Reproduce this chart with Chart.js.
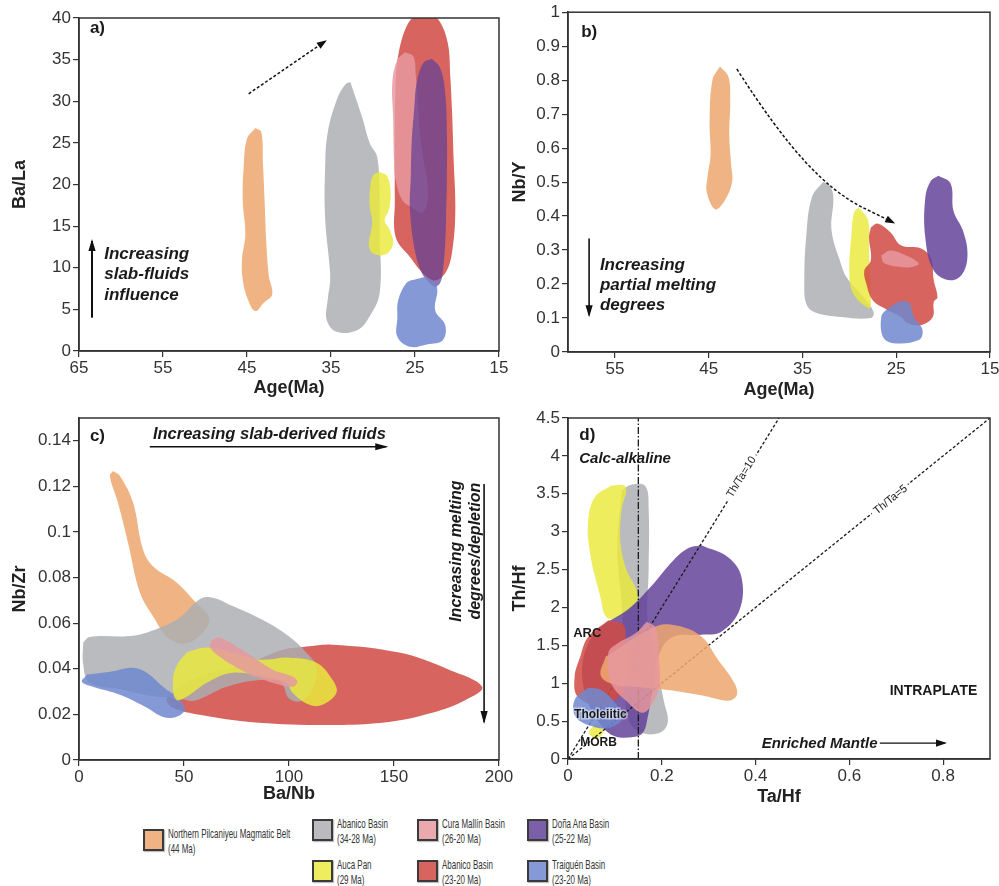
<!DOCTYPE html>
<html>
<head>
<meta charset="utf-8">
<script src="https://cdn.jsdelivr.net/npm/chart.js@4.4.1/dist/chart.umd.min.js"></script>
<style>
  html, body { margin: 0; padding: 0; background: #fff; width: 999px; height: 886px; overflow: hidden; }
  canvas { position: absolute; }
  .key { position: absolute; font: 13.5px "Liberation Sans", Arial, sans-serif; color: #333; line-height: 15px; white-space: nowrap; transform: scaleX(0.59); transform-origin: 0 0; }
  .box { position: absolute; width: 17px; height: 18px; border: 2px solid #3a3a3a; box-shadow: 1px 1px 1px rgba(0,0,0,0.25); }
</style>
</head>
<body>
<canvas id="pa" width="520" height="405" style="left:0;top:0"></canvas>
<canvas id="pb" width="520" height="405" style="left:500px;top:0"></canvas>
<canvas id="pc" width="520" height="405" style="left:0;top:405px"></canvas>
<canvas id="pd" width="520" height="405" style="left:500px;top:405px"></canvas>
<div id="legend"></div>
<script>
// ---- tick labels ----
const ageTicksA = [65, 55, 45, 35, 25, 15];
const ageTicksB = [55, 45, 35, 25, 15];
const baLaTicks = [0, 5, 10, 15, 20, 25, 30, 35, 40];
const nbYTicks = [0, 0.1, 0.2, 0.3, 0.4, 0.5, 0.6, 0.7, 0.8, 0.9, 1];
const baNbTicks = [0, 50, 100, 150, 200];
const nbZrTicks = [0, 0.02, 0.04, 0.06, 0.08, 0.1, 0.12, 0.14];
const taHfTicks = [0, 0.2, 0.4, 0.6, 0.8];
const thHfTicks = [0, 0.5, 1, 1.5, 2, 2.5, 3, 3.5, 4, 4.5];

// ---- legend ----
const legendKeys = ['orange', 'gray', 'yellow', 'pink', 'red', 'purple', 'blue'];
const legendNames = ['Northern Pilcaniyeu Magmatic Belt', 'Abanico Basin', 'Auca Pan', 'Cura Mallín Basin', 'Abanico Basin', 'Doña Ana Basin', 'Traiguén Basin'];
const legendAges = ['(44 Ma)', '(34-28 Ma)', '(29 Ma)', '(26-20 Ma)', '(23-20 Ma)', '(25-22 Ma)', '(23-20 Ma)'];

// ---- a) Age vs Ba/La ----
const aOrange = [[44.0,26.8],[43.3,26.3],[43.1,22.5],[42.9,18],[42.7,13],[42.4,9],[42.0,6.8],[43.0,5.8],[44.0,4.8],[44.9,6.2],[45.5,8.5],[45.6,11],[45.2,14],[45.5,18],[45.4,22],[45.0,25.5]];
const aGray = [[32.7,32.3],[31.3,28.1],[30.4,25],[29.5,23.3],[29.2,18],[29.2,14],[29.2,7],[30.5,4],[31.9,2.5],[34.3,2.3],[35.5,3.7],[35.4,6.1],[35.1,8.5],[35.2,10.5],[35.7,16],[35.7,22],[35.4,26.2],[34.3,30.2],[33.3,32]];
const aYellow = [[29.2,21.5],[28.3,21],[27.9,19],[28.1,17],[28.6,15.7],[28.0,14.5],[27.6,13],[28.2,11.8],[29.2,11.5],[30.2,11.9],[30.5,13],[30.2,14.5],[30.1,15.7],[30.4,17.5],[30.3,20],[29.9,21.2]];
const aRed = [[23.5,40.5],[22.2,39.8],[21.1,37],[20.8,33],[20.6,29],[20.4,23],[20.2,17],[20.5,12.5],[21.2,9.7],[22.5,8.5],[23.8,9.1],[25.6,11.3],[27.3,13.7],[27.4,18],[27.4,25],[27.3,32],[27.0,35.5],[26.0,39.0],[24.8,40.4]];
const aPink = [[26.2,35.9],[25.2,35.4],[24.9,33],[24.6,29],[24.4,26],[24.0,23],[23.5,20],[23.6,17.5],[24.2,16.6],[25.3,17.2],[26.5,18.1],[27.3,20.5],[27.5,23],[27.6,28],[27.7,32.2],[27.1,35]];
const aPurple = [[23.0,35.1],[22.0,34],[21.4,31],[21.2,26],[21.2,21],[21.3,16],[21.4,13],[21.7,9.5],[22.0,8.2],[22.6,7.7],[23.3,8.2],[24.2,9.4],[25.0,12],[25.6,17],[25.5,21],[25.4,25],[25.1,29],[24.8,32.2],[24.0,34.6]];
const aBlue = [[23.8,8.9],[25.0,8.6],[26.0,8.2],[27.0,6.1],[27.1,4],[27.1,1.7],[25.6,0.5],[23.5,0.8],[21.7,1.3],[21.4,3.1],[22.6,4.9],[22.4,7.7]];

// ---- b) Age vs Nb/Y ----
const bOrange = [[43.8,0.84],[42.9,0.81],[42.7,0.74],[42.8,0.64],[42.6,0.55],[42.5,0.5],[43.3,0.445],[44.3,0.42],[45.2,0.47],[45.1,0.52],[44.8,0.58],[44.9,0.68],[44.6,0.8]];
const bGray = [[32.8,0.50],[32.1,0.49],[31.7,0.455],[31.9,0.358],[30.9,0.26],[30.3,0.22],[28.4,0.158],[27.4,0.117],[27.7,0.10],[30.9,0.103],[33.7,0.117],[34.6,0.143],[34.8,0.21],[34.6,0.34],[34.0,0.455]];
const bYellow = [[29.0,0.425],[28.0,0.387],[27.9,0.29],[27.7,0.143],[27.9,0.128],[29.6,0.173],[30.0,0.24],[29.8,0.337],[29.5,0.41]];
const bRed = [[27.7,0.367],[27.0,0.378],[25.6,0.352],[24.5,0.314],[22.4,0.305],[21.3,0.276],[21.0,0.211],[20.6,0.161],[21.0,0.147],[21.1,0.103],[22.4,0.079],[23.8,0.085],[24.5,0.103],[25.9,0.123],[27.5,0.152],[28.2,0.202],[28.4,0.24],[27.7,0.27],[27.9,0.337]];
const bPink = [[26.6,0.284],[25.6,0.299],[24.0,0.285],[22.6,0.261],[23.3,0.25],[24.5,0.25],[26.3,0.262]];
const bBlue = [[24.8,0.147],[23.7,0.147],[23.1,0.103],[22.2,0.065],[22.6,0.035],[25.3,0.026],[26.4,0.044],[26.6,0.103],[26.1,0.123]];
const bPurple = [[20.5,0.519],[19.2,0.496],[18.9,0.416],[17.9,0.358],[17.4,0.29],[17.9,0.232],[19.2,0.211],[21.0,0.24],[21.9,0.337],[21.9,0.455],[21.3,0.504]];

// ---- c) Ba/Nb vs Nb/Zr ----
const cOrange = [[16.2,0.1268],[19.5,0.1246],[25.7,0.113],[30.4,0.0925],[35.2,0.085],[46.3,0.078],[55.1,0.0696],[62,0.062],[58,0.055],[50,0.051],[42,0.054],[36,0.062],[29.0,0.0735],[23.3,0.0955],[18.5,0.113],[14.7,0.1246]];
const cGray = [[2,0.0515],[5,0.054],[25.7,0.0545],[38.5,0.058],[48,0.0625],[57.5,0.0705],[63.7,0.0712],[73.2,0.0675],[89.3,0.0605],[101.7,0.053],[108.3,0.047],[113.1,0.041],[112,0.033],[106,0.026],[100,0.027],[96,0.034],[85,0.035],[70,0.032],[55,0.026],[48,0.027],[35,0.028],[20,0.031],[5,0.034],[2,0.042]];
const cYellow = [[51.2,0.0472],[60.8,0.0493],[73.2,0.047],[86,0.044],[100.2,0.0449],[113.1,0.0427],[120.7,0.0352],[122.6,0.0295],[115.9,0.0242],[109.7,0.0242],[101.7,0.0295],[98.8,0.0339],[89.3,0.0361],[73.2,0.0383],[60.8,0.0339],[51.2,0.0277],[46.3,0.0264],[44.7,0.0339],[46.3,0.041]];
const cPink = [[63.7,0.0528],[67,0.0537],[79.8,0.047],[92.2,0.0396],[101.7,0.0366],[104,0.0343],[101.7,0.0321],[92.2,0.0339],[79.8,0.0383],[67,0.0453],[62.2,0.0498]];
const cRed = [[108.3,0.0498],[120.7,0.0506],[152.5,0.0471],[176.2,0.0396],[192,0.0321],[184.3,0.0264],[168.2,0.0207],[144.4,0.0163],[113.1,0.0154],[81.2,0.0167],[57.5,0.0198],[44.7,0.0229],[41.8,0.0264],[46.3,0.0308],[57.5,0.0366],[81.2,0.0427],[97,0.0484]];
const cBlue = [[3.8,0.0374],[14.7,0.0387],[25.7,0.0405],[32.3,0.0383],[40,0.0321],[48,0.0264],[50.4,0.022],[46.3,0.0189],[40,0.0189],[32.3,0.0229],[19.5,0.0286],[6.7,0.0321],[1.4,0.0343]];

// ---- d) Ta/Hf vs Th/Hf ----
const dYellow = [[0.0925,3.61],[0.123,3.59],[0.114,3.28],[0.112,2.85],[0.125,2.49],[0.146,2.23],[0.146,2.07],[0.107,1.87],[0.082,1.87],[0.069,2.14],[0.047,2.72],[0.043,3.15],[0.058,3.46]];
const dYellowMorb = [[0.06,0.47],[0.075,0.4],[0.07,0.3],[0.055,0.28],[0.045,0.36]];
const dGray = [[0.115,3.55],[0.135,3.62],[0.165,3.6],[0.172,3.3],[0.172,2.5],[0.17,1.8],[0.19,1.2],[0.205,0.75],[0.213,0.5],[0.2,0.36],[0.16,0.34],[0.13,0.5],[0.12,1.2],[0.115,2.0],[0.105,2.8]];
const dPurple = [[0.284,2.82],[0.342,2.66],[0.37,2.40],[0.366,1.97],[0.327,1.68],[0.284,1.64],[0.22,1.6],[0.19,1.3],[0.18,0.9],[0.17,0.55],[0.16,0.35],[0.14,0.29],[0.1,0.3],[0.07,0.45],[0.04,0.8],[0.03,1.2],[0.045,1.55],[0.069,1.74],[0.127,1.97],[0.176,2.27],[0.226,2.63],[0.256,2.78]];
const dRed = [[0.086,1.83],[0.118,1.77],[0.123,1.53],[0.123,0.95],[0.101,0.78],[0.071,0.69],[0.021,0.82],[0.014,1.08],[0.026,1.35],[0.043,1.61]];
const dOrange = [[0.08,1.35],[0.187,1.75],[0.234,1.76],[0.284,1.62],[0.32,1.31],[0.355,1.0],[0.36,0.84],[0.342,0.77],[0.284,0.84],[0.213,0.91],[0.15,0.95],[0.1,0.98],[0.07,1.1]];
const dPink = [[0.168,1.81],[0.187,1.73],[0.194,1.35],[0.194,0.95],[0.176,0.69],[0.157,0.61],[0.129,0.74],[0.092,1.0],[0.086,1.4],[0.107,1.53],[0.144,1.66]];
const dBlue = [[0.043,0.94],[0.071,0.91],[0.107,0.69],[0.118,0.55],[0.092,0.42],[0.058,0.42],[0.017,0.55],[0.014,0.78]];
const thTa10 = [[0, 0], [0.45, 4.5]];
const thTa5 = [[0, 0], [0.9, 4.5]];
const calcLine = [[0.15, 0], [0.15, 4.5]];

// ---- styling ----
const fills = {
  orange: 'rgba(238,166,112,0.86)',
  gray: 'rgba(172,174,178,0.84)',
  yellow: 'rgba(234,234,62,0.84)',
  pink: 'rgba(230,152,158,0.84)',
  red: 'rgba(208,74,68,0.86)',
  purple: 'rgba(98,64,152,0.84)',
  blue: 'rgba(112,136,206,0.86)'
};
const FONT = '"Liberation Sans", Arial, sans-serif';
const ink = '#222';

function blob(pts, key, alpha) {
  let col = fills[key];
  if (alpha) col = col.replace(/[\d.]+\)$/, alpha + ')');
  return {
    data: pts.concat([pts[0]]).map(p => ({x: p[0], y: p[1]})),
    showLine: true, fill: 'shape', backgroundColor: col,
    borderColor: 'transparent', borderWidth: 0, pointRadius: 0, tension: 0.38
  };
}
function refLine(pts, dash) {
  return {
    data: pts.map(p => ({x: p[0], y: p[1]})),
    showLine: true, fill: false, borderColor: '#1a1a1a', borderWidth: 1.3,
    borderDash: dash, pointRadius: 0, tension: 0
  };
}

function notesPlugin(notes) {
  return {
    id: 'notes',
    afterDatasetsDraw(chart) {
      const {ctx} = chart;
      const xs = chart.scales.x, ys = chart.scales.y;
      const px = p => [xs.getPixelForValue(p[0]), ys.getPixelForValue(p[1])];
      ctx.save();
      (notes.arrows || []).forEach(a => {
        const pts = a.pts.map(px);
        ctx.strokeStyle = '#111';
        ctx.fillStyle = '#111';
        ctx.lineWidth = a.w || 1.6;
        ctx.setLineDash(a.dash || []);
        ctx.beginPath();
        ctx.moveTo(pts[0][0], pts[0][1]);
        if (pts.length > 2) {
          for (let i = 1; i < pts.length - 1; i++) {
            const mx = (pts[i][0] + pts[i + 1][0]) / 2, my = (pts[i][1] + pts[i + 1][1]) / 2;
            ctx.quadraticCurveTo(pts[i][0], pts[i][1], mx, my);
          }
        }
        const e = pts[pts.length - 1], s = pts[pts.length - 2];
        ctx.lineTo(e[0], e[1]);
        ctx.stroke();
        ctx.setLineDash([]);
        const ang = Math.atan2(e[1] - s[1], e[0] - s[0]);
        const L = a.head || 9, W = 3.6;
        const c = Math.cos(ang), sn = Math.sin(ang);
        ctx.beginPath();
        ctx.moveTo(e[0] + 2 * c, e[1] + 2 * sn);
        ctx.lineTo(e[0] - L * c + W * sn, e[1] - L * sn - W * c);
        ctx.lineTo(e[0] - L * c - W * sn, e[1] - L * sn + W * c);
        ctx.closePath();
        ctx.fill();
      });
      (notes.texts || []).forEach(t => {
        const [x, y] = px([t.x, t.y]);
        let rot = t.rot || 0;
        if (t.along) {
          const p0 = px(t.along[0]), p1 = px(t.along[1]);
          rot = Math.atan2(p1[1] - p0[1], p1[0] - p0[0]);
        }
        ctx.save();
        ctx.translate(x, y);
        ctx.rotate(rot);
        ctx.font = t.font;
        ctx.textAlign = t.align || 'left';
        ctx.textBaseline = 'middle';
        if (t.bg) {
          const w = ctx.measureText(t.text).width;
          ctx.fillStyle = '#fff';
          ctx.fillRect(-w / 2 - 3, -6, w + 6, 12);
        }
        if (t.halo) {
          ctx.strokeStyle = 'rgba(255,255,255,0.45)';
          ctx.lineWidth = 3;
          ctx.strokeText(t.text, 0, 0);
        }
        ctx.fillStyle = t.color || '#1a1a1a';
        ctx.fillText(t.text, 0, 0);
        ctx.restore();
      });
      ctx.restore();
    }
  };
}

const frame = {
  id: 'frame',
  afterDraw(chart) {
    const {ctx, chartArea: a} = chart;
    ctx.save();
    ctx.strokeStyle = '#333';
    ctx.lineWidth = 1.5;
    ctx.strokeRect(a.left, a.top, a.right - a.left, a.bottom - a.top);
    ctx.restore();
  }
};

function axis(o) {
  return {
    type: 'linear', min: o.min, max: o.max, reverse: !!o.reverse,
    afterBuildTicks: s => { s.ticks = o.ticks.map(v => ({value: v})); },
    afterFit: s => { if (s.isHorizontal()) s.height = o.size; else s.width = o.size; },
    grid: {display: true, drawOnChartArea: false, drawTicks: true, tickLength: 6, color: '#333', lineWidth: 1.2},
    border: {display: true, color: '#333', width: 1.5},
    ticks: {font: {size: 17, family: FONT}, color: '#333', padding: o.tickPad, maxRotation: 0, autoSkip: false, callback: v => String(v)},
    title: {display: true, text: o.title, color: ink, font: {size: 18, weight: 'bold', family: FONT}, padding: o.titlePad}
  };
}

function panel(id, area, xo, yo, sets, notes) {
  const cv = document.getElementById(id);
  const W = cv.width, H = cv.height;
  const n = sets.length;
  const datasets = sets.map((d, i) => Object.assign(d, {order: n - i}));
  new Chart(cv, {
    type: 'scatter',
    data: {datasets},
    options: {
      responsive: false, animation: false, events: [],
      layout: {padding: {left: 0, top: area.top, right: W - area.right, bottom: 0}},
      plugins: {legend: {display: false}, tooltip: {enabled: false}},
      scales: {
        x: axis(Object.assign({size: H - area.bottom, tickPad: 1}, xo)),
        y: axis(Object.assign({size: area.left, tickPad: 2}, yo))
      }
    },
    plugins: [notesPlugin(notes), frame]
  });
}

const bi = s => 'italic bold ' + s + 'px ' + FONT;
const bd = s => 'bold ' + s + 'px ' + FONT;

panel('pa', {left: 79, top: 18, right: 499, bottom: 351},
  {min: 15, max: 65, reverse: true, ticks: ageTicksA, title: 'Age(Ma)', titlePad: {top: 0, bottom: 6}},
  {min: 0, max: 40, ticks: baLaTicks, title: 'Ba/La', titlePad: {top: 9, bottom: 0}},
  [blob(aGray, 'gray'), blob(aYellow, 'yellow'), blob(aOrange, 'orange'), blob(aRed, 'red'),
   blob(aPink, 'pink'), blob(aPurple, 'purple', 0.72), blob(aBlue, 'blue')],
  {
    arrows: [
      {pts: [[44.8, 30.9], [35.7, 37.2]], dash: [3, 2], w: 1.5, head: 8},
      {pts: [[63.45, 4.0], [63.45, 13.2]], w: 2, head: 10}
    ],
    texts: [
      {text: 'a)', x: 63.7, y: 38.8, font: bd(17)},
      {text: 'Increasing', x: 62.0, y: 11.65, font: bi(17)},
      {text: 'slab-fluids', x: 62.0, y: 9.25, font: bi(17)},
      {text: 'influence', x: 62.0, y: 6.73, font: bi(17)}
    ]
  });

panel('pb', {left: 68, top: 11, right: 490, bottom: 352},
  {min: 15, max: 60, reverse: true, ticks: ageTicksB, title: 'Age(Ma)', titlePad: {top: 0, bottom: 4}},
  {min: 0, max: 1, ticks: nbYTicks, title: 'Nb/Y', titlePad: {top: 9, bottom: 0}},
  [blob(bGray, 'gray'), blob(bYellow, 'yellow'), blob(bOrange, 'orange'), blob(bRed, 'red'),
   blob(bPink, 'pink'), blob(bBlue, 'blue'), blob(bPurple, 'purple')],
  {
    arrows: [
      {pts: [[42.0, 0.833], [38.0, 0.66], [31.6, 0.466], [25.3, 0.381]], dash: [3, 2], w: 1.5, head: 8},
      {pts: [[57.75, 0.334], [57.75, 0.108]], w: 1.6, head: 10}
    ],
    texts: [
      {text: 'b)', x: 58.6, y: 0.94, font: bd(17)},
      {text: 'Increasing', x: 56.6, y: 0.255, font: bi(17)},
      {text: 'partial melting', x: 56.6, y: 0.196, font: bi(17)},
      {text: 'degrees', x: 56.6, y: 0.138, font: bi(17)}
    ]
  });

panel('pc', {left: 79, top: 13, right: 499, bottom: 355},
  {min: 0, max: 200, ticks: baNbTicks, title: 'Ba/Nb', titlePad: {top: 0, bottom: 5}},
  {min: 0, max: 0.15, ticks: nbZrTicks, title: 'Nb/Zr', titlePad: {top: 9, bottom: 0}},
  [blob(cRed, 'red'), blob(cOrange, 'orange'), blob(cGray, 'gray'), blob(cBlue, 'blue'),
   blob(cYellow, 'yellow'), blob(cPink, 'pink')],
  {
    arrows: [
      {pts: [[33.7, 0.1374], [146.3, 0.1374]], w: 1.6, head: 11},
      {pts: [[192.9, 0.1211], [192.9, 0.0167]], w: 1.6, head: 11}
    ],
    texts: [
      {text: 'c)', x: 5.2, y: 0.1418, font: bd(17)},
      {text: 'Increasing slab-derived fluids', x: 35.2, y: 0.1427, font: bi(16.5)},
      {text: 'Increasing melting', x: 179.7, y: 0.0916, rot: -Math.PI / 2, align: 'center', font: bi(16)},
      {text: 'degrees/depletion', x: 188.7, y: 0.0916, rot: -Math.PI / 2, align: 'center', font: bi(16)}
    ]
  });

panel('pd', {left: 68, top: 13, right: 490, bottom: 354},
  {min: 0, max: 0.9, ticks: taHfTicks, title: 'Ta/Hf', titlePad: {top: 0, bottom: 2}},
  {min: 0, max: 4.5, ticks: thHfTicks, title: 'Th/Hf', titlePad: {top: 9, bottom: 0}},
  [blob(dGray, 'gray'), blob(dYellow, 'yellow'), blob(dYellowMorb, 'yellow'), blob(dPurple, 'purple'),
   refLine(calcLine, [7, 2, 1.5, 2]), refLine(thTa10, [3, 2]), refLine(thTa5, [3, 2]),
   blob(dRed, 'red'), blob(dOrange, 'orange'), blob(dBlue, 'blue'), blob(dPink, 'pink')],
  {
    arrows: [
      {pts: [[0.665, 0.21], [0.804, 0.21]], w: 1.3, head: 9}
    ],
    texts: [
      {text: 'd)', x: 0.024, y: 4.27, font: bd(17)},
      {text: 'Calc-alkaline', x: 0.024, y: 3.96, font: bi(15)},
      {text: 'ARC', x: 0.011, y: 1.66, font: bd(13)},
      {text: 'Tholeiitic', x: 0.013, y: 0.59, font: bd(12), halo: true},
      {text: 'MORB', x: 0.026, y: 0.21, font: bd(12)},
      {text: 'INTRAPLATE', x: 0.686, y: 0.90, font: bd(14)},
      {text: 'Enriched Mantle', x: 0.413, y: 0.20, font: bi(15)},
      {text: 'Th/Ta=10', x: 0.37, y: 3.72, along: thTa10, align: 'center', bg: true, font: '11px ' + FONT},
      {text: 'Th/Ta=5', x: 0.688, y: 3.42, along: thTa5, align: 'center', bg: true, font: '11px ' + FONT}
    ]
  });

// ---- legend (HTML) ----
const legendPos = [[143, 829], [312, 819], [312, 860], [417, 819], [417, 860], [527, 819], [527, 860]];
const lg = document.getElementById('legend');
legendKeys.forEach((k, i) => {
  const [x, y] = legendPos[i];
  const b = document.createElement('div');
  b.className = 'box';
  b.style.left = x + 'px';
  b.style.top = y + 'px';
  b.style.background = fills[k];
  lg.appendChild(b);
  const t = document.createElement('div');
  t.className = 'key';
  t.style.left = (x + 25) + 'px';
  t.style.top = (y - 3) + 'px';
  t.innerHTML = legendNames[i] + '<br>' + legendAges[i];
  lg.appendChild(t);
});
</script>
</body>
</html>
